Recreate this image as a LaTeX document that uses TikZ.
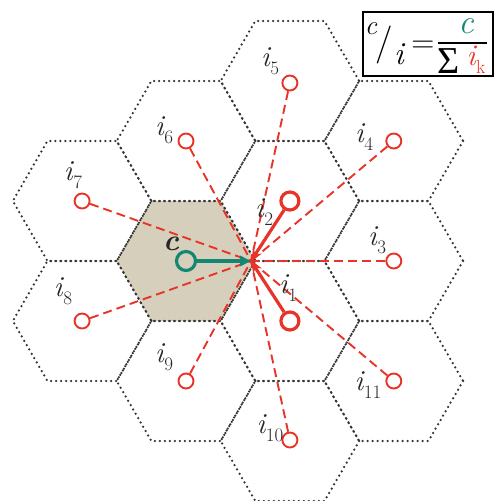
\documentclass[tikz,border=0pt]{standalone}
\usepackage{fontspec}
\newfontfamily\symfont{Liberation Serif}
\usetikzlibrary{arrows.meta}
\definecolor{hexfill}{RGB}{214,207,188}
\definecolor{ired}{RGB}{232,52,40}
\definecolor{cgreen}{RGB}{20,135,115}
\newcommand\isub[1]{{\itshape i}\kern0.02em\raisebox{-0.28em}{\fontsize{19}{19}\selectfont #1}}
\begin{document}
\begin{tikzpicture}[x=1pt,y=-1pt,
  hexline/.style={line width=2.5pt, dash pattern=on 0pt off 5pt, line cap=round, black!80},
  icirc/.style={circle, draw=ired, line width=1.9pt, minimum size=15pt, inner sep=0pt},
  icircb/.style={icirc, line width=3.2pt, minimum size=18pt},
  ccirc/.style={circle, draw=cgreen, line width=3.2pt, minimum size=19pt, inner sep=0pt},
  idash/.style={draw=ired, line width=1.9pt, dash pattern=on 9pt off 5pt},
  iarrow/.style={draw=ired, line width=3.2pt, -{Stealth[length=12pt,width=10pt]}},
  carrow/.style={draw=cgreen, line width=3.2pt, -{Triangle[length=11pt,width=10pt]}},
  lab/.style={font=\fontsize{29}{32}\selectfont, inner sep=0pt, text=black!85},
  ftxt/.style={inner sep=0pt, font=\fontsize{32}{36}\selectfont}
]
\useasboundingbox (0,0) rectangle (495,501);
% shaded centre cell
\fill[hexfill, shift={(186,261)}] (69.28,0) -- (34.64,60) -- (-34.64,60) -- (-69.28,0) -- (-34.64,-60) -- (34.64,-60) -- cycle;
% cells
\foreach \x/\y in {186/261, 289.9/321, 289.9/201, 393.8/261, 393.8/141, 289.9/81, 186/141, 82.1/201, 82.1/321, 186/381, 289.9/441, 393.8/381}
  \draw[hexline, shift={(\x,\y)}] (69.28,0) -- (34.64,60) -- (-34.64,60) -- (-69.28,0) -- (-34.64,-60) -- (34.64,-60) -- cycle;
% convergence point
\coordinate (P) at (251,261);
% interferers
\node[icircb] (i1) at (289.9,321) {};
\node[icircb] (i2) at (289.9,201) {};
\node[icirc] (i3) at (393.8,261) {};
\node[icirc] (i4) at (393.8,141) {};
\node[icirc] (i5) at (289.9,83) {};
\node[icirc] (i6) at (186,141) {};
\node[icirc] (i7) at (82.1,201) {};
\node[icirc] (i8) at (82.1,321) {};
\node[icirc] (i9) at (186,381) {};
\node[icirc] (i10) at (289.9,440) {};
\node[icirc] (i11) at (393.8,381) {};
\node[ccirc] (c) at (186,261) {};
% connectors
\foreach \n in {i3,i4,i5,i6,i7,i8,i9,i10,i11}
  \draw[idash] (\n) -- (P);
\draw[iarrow] (i1) -- (P);
\draw[iarrow] (i2) -- (P);
\draw[carrow] (c) -- (P);
% labels
\node[lab] (l1) at (288,288) {\isub{1}};
\node[lab] (l2) at (264,212) {\isub{2}};
\node[lab] (l3) at (377,240) {\isub{3}};
\node[lab] (l4) at (364,137) {\isub{4}};
\node[lab] (l5) at (270,61) {\isub{5}};
\node[lab] (l6) at (164,130) {\isub{6}};
\node[lab] (l7) at (73,175) {\isub{7}};
\node[lab] (l8) at (63,291) {\isub{8}};
\node[lab] (l9) at (164,357) {\isub{9}};
\node[lab] (l10) at (270,428) {\isub{10}};
\node[lab] (l11) at (368,385) {\isub{11}};
\node[lab] (lc) at (171,244) {\fontsize{30}{32}\selectfont\bfseries\itshape c};
% formula
\node[draw, line width=1.5pt, minimum width=130pt, minimum height=64pt, inner sep=0pt] (formula) at (428,44) {};
\node[ftxt, font=\fontsize{27}{30}\selectfont\itshape] (fc) at (371,29) {c};
\node[ftxt, font=\fontsize{38}{40}\selectfont] (fs) at (384,45) {/};
\node[ftxt, font=\fontsize{32}{36}\selectfont\itshape] (fi) at (399,54) {i};
\node[ftxt] (feq) at (423,47) {=};
\coordinate (barl) at (438,43);
\coordinate (barr) at (487,43);
\draw[line width=1.5pt] (barl) -- (barr);
\node[ftxt, font=\fontsize{34}{36}\selectfont\itshape, text=cgreen] (fn) at (466,26) {c};
\node[ftxt, font=\fontsize{38}{40}\selectfont\symfont] (fsum) at (449,61) {Σ};
\node[ftxt, font=\fontsize{30}{32}\selectfont, text=ired] (fik) at (476,60) {\isub{k}};
\end{tikzpicture}
\end{document}
